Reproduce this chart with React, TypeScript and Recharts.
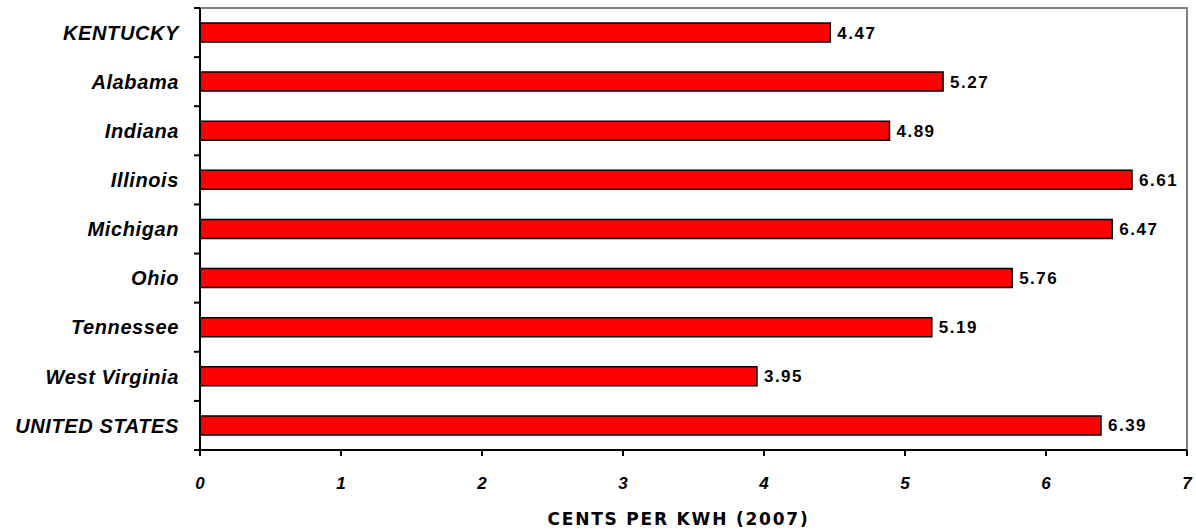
import React from 'react';
import { BarChart, Bar, XAxis, YAxis, ReferenceArea, LabelList } from 'recharts';

// data
const states = ['KENTUCKY', 'Alabama', 'Indiana', 'Illinois', 'Michigan', 'Ohio', 'Tennessee', 'West Virginia', 'UNITED STATES'];
const cents = [4.47, 5.27, 4.89, 6.61, 6.47, 5.76, 5.19, 3.95, 6.39];
const xTicks = [0, 1, 2, 3, 4, 5, 6, 7];

const data = states.map((name, i) => ({ name, value: cents[i] }));

const LABEL_FONT = '"Liberation Sans", Arial, sans-serif';
const TICK_SIZE = 6;
const TICK_MARGIN = 15;

// category label + tick marks between categories (Excel style)
const StateTick = (props: any) => {
  const { x, y, payload, height, visibleTicksCount, index } = props;
  const half = height / visibleTicksCount / 2;
  const x2 = x + TICK_MARGIN + TICK_SIZE;
  const x1 = x2 - TICK_SIZE;
  return (
    <g>
      <line x1={x1} x2={x2} y1={y - half} y2={y - half} stroke="#000" strokeWidth={2} />
      {index === visibleTicksCount - 1 && (
        <line x1={x1} x2={x2} y1={y + half} y2={y + half} stroke="#000" strokeWidth={2} />
      )}
      <text
        x={x}
        y={y}
        dy="0.36em"
        textAnchor="end"
        fill="#000"
        style={{ fontFamily: LABEL_FONT, fontSize: 20, fontWeight: 700, fontStyle: 'italic', letterSpacing: 0.6 }}
      >
        {payload.value}
      </text>
    </g>
  );
};

const ValueTick = (props: any) => {
  const { x, y, payload } = props;
  return (
    <text
      x={x}
      y={y}
      dy="0.72em"
      textAnchor="middle"
      fill="#000"
      style={{ fontFamily: LABEL_FONT, fontSize: 17, fontWeight: 700, fontStyle: 'italic' }}
    >
      {payload.value}
    </text>
  );
};

export default function App() {
  return (
    <div style={{ position: 'absolute', left: 0, top: 0, background: '#fff' }}>
      <BarChart
        width={1196}
        height={531}
        data={data}
        layout="vertical"
        margin={{ top: 8, right: 9, left: 0, bottom: 0 }}
        barSize={19}
      >
        <ReferenceArea x1={0} x2={7} fill="none" stroke="#808080" strokeWidth={2} ifOverflow="extendDomain" />
        <XAxis
          type="number"
          domain={[0, 7]}
          ticks={xTicks}
          interval={0}
          height={81}
          axisLine={{ stroke: '#000', strokeWidth: 2 }}
          tickLine={{ stroke: '#000', strokeWidth: 2 }}
          tickSize={6}
          tickMargin={21}
          tick={<ValueTick />}
          label={{
            value: 'CENTS PER KWH (2007)',
            position: 'insideBottom',
            offset: 6,
            dx: -15,
            fill: '#000',
            style: { fontFamily: '"DejaVu Sans", Verdana, sans-serif', fontSize: 17, fontWeight: 700, letterSpacing: 1.8 },
          }}
        />
        <YAxis
          type="category"
          dataKey="name"
          width={200}
          interval={0}
          axisLine={{ stroke: '#000', strokeWidth: 2 }}
          tickLine={false}
          tickSize={TICK_SIZE}
          tickMargin={TICK_MARGIN}
          tick={<StateTick />}
        />
        <Bar dataKey="value" fill="#ff0000" stroke="#000" strokeWidth={1.5} isAnimationActive={false}>
          <LabelList
            dataKey="value"
            position="right"
            offset={7}
            fill="#000"
            formatter={(v: any) => Number(v).toFixed(2)}
            style={{ fontFamily: LABEL_FONT, fontSize: 17, fontWeight: 700, letterSpacing: 1.5 }}
          />
        </Bar>
      </BarChart>
    </div>
  );
}
